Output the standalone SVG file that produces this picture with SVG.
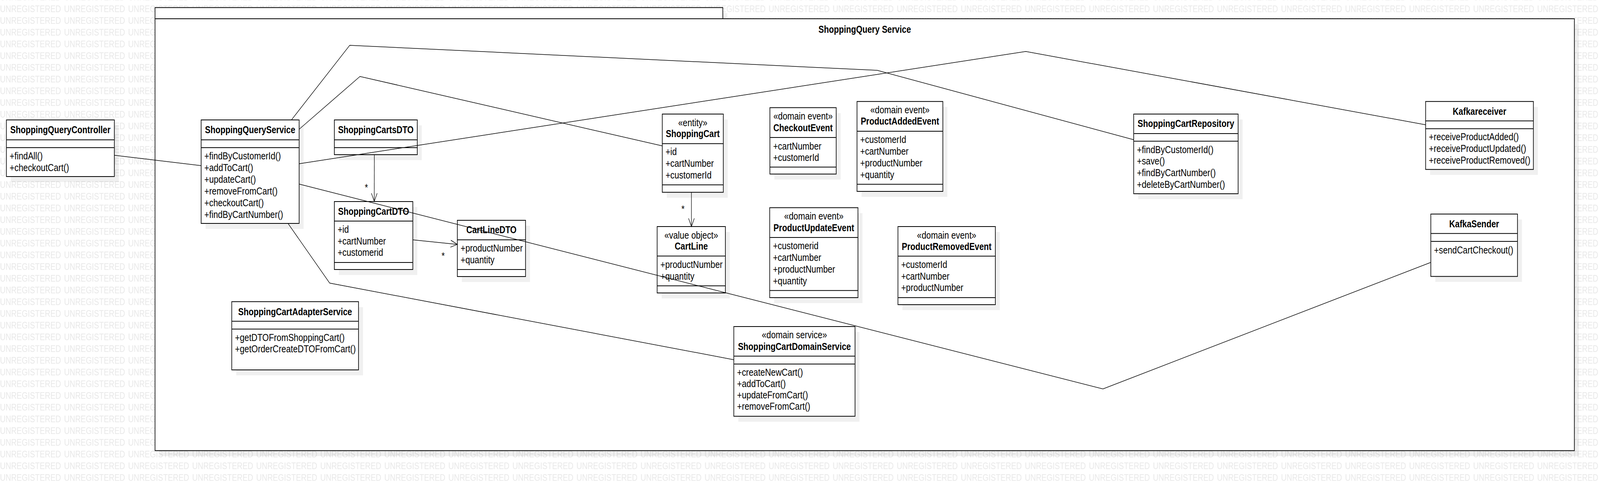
<svg xmlns="http://www.w3.org/2000/svg" width="4996" height="1234" viewBox="0 0 4996 1234" preserveAspectRatio="none" style="width:100vw;height:100vh;display:block">
<style>
.wm{font-family:"Liberation Sans",Arial,sans-serif;font-size:24px;fill:#e8e8e8}
.sh{fill:#000;fill-opacity:0.06;stroke:none}
.box{fill:#fff;stroke:#000;stroke-width:2}
.sep{stroke:#000;stroke-width:2}
.nm{font-family:"Liberation Sans",Arial,sans-serif;font-size:25.5px;font-weight:bold;text-anchor:middle;fill:#000}
.st{font-family:"Liberation Sans",Arial,sans-serif;font-size:26px;text-anchor:middle;fill:#000}
.tx{font-family:"Liberation Sans",Arial,sans-serif;font-size:26px;fill:#000}
.cn{fill:none;stroke:#000;stroke-width:1.5}
.ml{font-family:"Liberation Sans",Arial,sans-serif;font-size:26px;text-anchor:middle;fill:#000}
</style>
<defs>
<pattern id="wmp" patternUnits="userSpaceOnUse" x="0" y="1" width="200" height="30">
<text class="wm" x="0" y="30">UNREGISTERED</text>
</pattern>
<marker id="arr" markerUnits="userSpaceOnUse" markerWidth="24" markerHeight="20" viewBox="0 0 24 20" refX="22" refY="10" orient="auto">
<path d="M1,1 L22,10 L1,19" fill="none" stroke="#000" stroke-width="1.5"/>
</marker>
</defs>
<rect x="0" y="0" width="4996" height="1234" fill="#fff"/>
<rect x="0" y="0" width="4996" height="1234" fill="url(#wmp)"/>

<g id="package">
<rect class="sh" x="498" y="33.4" width="1773" height="28.6"/>
<rect class="sh" x="498" y="62" width="4432" height="1105.7"/>
<rect class="box" x="484" y="19.4" width="1773" height="28.6"/>
<rect class="box" x="484" y="48" width="4432" height="1105.7"/>
<text class="nm" x="2700" y="84">ShoppingQuery Service</text>
</g>

<g id="ShoppingQueryController">
<rect class="sh" x="34" y="321" width="337" height="145"/>
<rect class="box" x="20" y="307" width="337" height="145"/>
<line class="sep" x1="20" y1="358" x2="357" y2="358"/>
<line class="sep" x1="20" y1="378" x2="357" y2="378"/>
<text class="nm" x="188.5" y="341.5">ShoppingQueryController</text>
<text class="tx" x="30" y="408">+findAll()</text>
<text class="tx" x="30" y="438">+checkoutCart()</text>
</g>

<g id="ShoppingQueryService">
<rect class="sh" x="642" y="321" width="306" height="265"/>
<rect class="box" x="628" y="307" width="306" height="265"/>
<line class="sep" x1="628" y1="358" x2="934" y2="358"/>
<line class="sep" x1="628" y1="378" x2="934" y2="378"/>
<text class="nm" x="781" y="341.5">ShoppingQueryService</text>
<text class="tx" x="638" y="408">+findByCustomerId()</text>
<text class="tx" x="638" y="438">+addToCart()</text>
<text class="tx" x="638" y="468">+updateCart()</text>
<text class="tx" x="638" y="498">+removeFromCart()</text>
<text class="tx" x="638" y="528">+checkoutCart()</text>
<text class="tx" x="638" y="558">+findByCartNumber()</text>
</g>

<g id="ShoppingCartsDTO">
<rect class="sh" x="1058" y="321" width="259" height="89"/>
<rect class="box" x="1044" y="307" width="259" height="89"/>
<line class="sep" x1="1044" y1="358" x2="1303" y2="358"/>
<line class="sep" x1="1044" y1="378" x2="1303" y2="378"/>
<text class="nm" x="1173.5" y="341.5">ShoppingCartsDTO</text>
</g>

<g id="ShoppingCartDTO">
<rect class="sh" x="1058" y="530" width="245" height="174"/>
<rect class="box" x="1044" y="516" width="245" height="174"/>
<line class="sep" x1="1044" y1="566" x2="1289" y2="566"/>
<line class="sep" x1="1044" y1="672" x2="1289" y2="672"/>
<text class="nm" x="1166.5" y="550">ShoppingCartDTO</text>
<text class="tx" x="1054" y="596">+id</text>
<text class="tx" x="1054" y="626">+cartNumber</text>
<text class="tx" x="1054" y="655">+customerid</text>
</g>

<g id="CartLineDTO">
<rect class="sh" x="1442" y="578" width="213" height="144"/>
<rect class="box" x="1428" y="564" width="213" height="144"/>
<line class="sep" x1="1428" y1="614" x2="1641" y2="614"/>
<line class="sep" x1="1428" y1="690" x2="1641" y2="690"/>
<text class="nm" x="1534.5" y="597.5">CartLineDTO</text>
<text class="tx" x="1438" y="644">+productNumber</text>
<text class="tx" x="1438" y="674">+quantity</text>
</g>

<g id="ShoppingCart">
<rect class="sh" x="2082" y="306" width="190.5" height="200.3"/>
<rect class="box" x="2068" y="292" width="190.5" height="200.3"/>
<line class="sep" x1="2068" y1="367.7" x2="2258.5" y2="367.7"/>
<line class="sep" x1="2068" y1="473.3" x2="2258.5" y2="473.3"/>
<text class="st" x="2163.25" y="323">«entity»</text>
<text class="nm" x="2163.25" y="351.5">ShoppingCart</text>
<text class="tx" x="2078" y="397">+id</text>
<text class="tx" x="2078" y="427">+cartNumber</text>
<text class="tx" x="2078" y="457">+customerId</text>
</g>

<g id="CartLine">
<rect class="sh" x="2066" y="594" width="213" height="170"/>
<rect class="box" x="2052" y="580" width="213" height="170"/>
<line class="sep" x1="2052" y1="655.6" x2="2265" y2="655.6"/>
<line class="sep" x1="2052" y1="731.7" x2="2265" y2="731.7"/>
<text class="st" x="2158.5" y="610.7">«value object»</text>
<text class="nm" x="2158.5" y="639">CartLine</text>
<text class="tx" x="2062" y="685.7">+productNumber</text>
<text class="tx" x="2062" y="715.7">+quantity</text>
</g>

<g id="CheckoutEvent">
<rect class="sh" x="2418" y="289.6" width="207" height="170"/>
<rect class="box" x="2404" y="275.6" width="207" height="170"/>
<line class="sep" x1="2404" y1="352" x2="2611" y2="352"/>
<line class="sep" x1="2404" y1="427.8" x2="2611" y2="427.8"/>
<text class="st" x="2507.5" y="306.3">«domain event»</text>
<text class="nm" x="2507.5" y="335.6">CheckoutEvent</text>
<text class="tx" x="2414" y="382.6">+cartNumber</text>
<text class="tx" x="2414" y="412">+customerId</text>
</g>

<g id="ProductAddedEvent">
<rect class="sh" x="2690" y="273.8" width="268" height="230.2"/>
<rect class="box" x="2676" y="259.8" width="268" height="230.2"/>
<line class="sep" x1="2676" y1="336" x2="2944" y2="336"/>
<line class="sep" x1="2676" y1="471.7" x2="2944" y2="471.7"/>
<text class="st" x="2810" y="290.5">«domain event»</text>
<text class="nm" x="2810" y="319.4">ProductAddedEvent</text>
<text class="tx" x="2686" y="366">+customerId</text>
<text class="tx" x="2686" y="396">+cartNumber</text>
<text class="tx" x="2686" y="426">+productNumber</text>
<text class="tx" x="2686" y="456">+quantity</text>
</g>

<g id="ProductUpdateEvent">
<rect class="sh" x="2417.4" y="545.7" width="275.6" height="230.3"/>
<rect class="box" x="2403.4" y="531.7" width="275.6" height="230.3"/>
<line class="sep" x1="2403.4" y1="608" x2="2679" y2="608"/>
<line class="sep" x1="2403.4" y1="743.7" x2="2679" y2="743.7"/>
<text class="st" x="2541.2" y="562.3">«domain event»</text>
<text class="nm" x="2541.2" y="591.7">ProductUpdateEvent</text>
<text class="tx" x="2413.4" y="638">+customerid</text>
<text class="tx" x="2413.4" y="668">+cartNumber</text>
<text class="tx" x="2413.4" y="698">+productNumber</text>
<text class="tx" x="2413.4" y="728">+quantity</text>
</g>

<g id="ProductRemovedEvent">
<rect class="sh" x="2817.8" y="594" width="304.2" height="200"/>
<rect class="box" x="2803.8" y="580" width="304.2" height="200"/>
<line class="sep" x1="2803.8" y1="655.7" x2="3108" y2="655.7"/>
<line class="sep" x1="2803.8" y1="762" x2="3108" y2="762"/>
<text class="st" x="2955.9" y="610.7">«domain event»</text>
<text class="nm" x="2955.9" y="639.7">ProductRemovedEvent</text>
<text class="tx" x="2813.8" y="685.7">+customerId</text>
<text class="tx" x="2813.8" y="715.7">+cartNumber</text>
<text class="tx" x="2813.8" y="745">+productNumber</text>
</g>

<g id="ShoppingCartRepository">
<rect class="sh" x="3554" y="306" width="326" height="204"/>
<rect class="box" x="3540" y="292" width="326" height="204"/>
<line class="sep" x1="3540" y1="342" x2="3866" y2="342"/>
<line class="sep" x1="3540" y1="361.4" x2="3866" y2="361.4"/>
<text class="nm" x="3703" y="325.3">ShoppingCartRepository</text>
<text class="tx" x="3550" y="391.7">+findByCustomerId()</text>
<text class="tx" x="3550" y="421.4">+save()</text>
<text class="tx" x="3550" y="451">+findByCartNumber()</text>
<text class="tx" x="3550" y="480.7">+deleteByCartNumber()</text>
</g>

<g id="Kafkareceiver">
<rect class="sh" x="4465.5" y="273.8" width="336.5" height="174"/>
<rect class="box" x="4451.5" y="259.8" width="336.5" height="174"/>
<line class="sep" x1="4451.5" y1="309.6" x2="4788" y2="309.6"/>
<line class="sep" x1="4451.5" y1="329.4" x2="4788" y2="329.4"/>
<text class="nm" x="4619.75" y="293.7">Kafkareceiver</text>
<text class="tx" x="4461.5" y="359">+receiveProductAdded()</text>
<text class="tx" x="4461.5" y="388.6">+receiveProductUpdated()</text>
<text class="tx" x="4461.5" y="418.6">+receiveProductRemoved()</text>
</g>

<g id="KafkaSender">
<rect class="sh" x="4481.7" y="562" width="270.6" height="159.7"/>
<rect class="box" x="4467.7" y="548" width="270.6" height="159.7"/>
<line class="sep" x1="4467.7" y1="597.7" x2="4738.3" y2="597.7"/>
<line class="sep" x1="4467.7" y1="618" x2="4738.3" y2="618"/>
<text class="nm" x="4603" y="581.7">KafkaSender</text>
<text class="tx" x="4477.7" y="649">+sendCartCheckout()</text>
</g>

<g id="ShoppingCartAdapterService">
<rect class="sh" x="737.7" y="786.3" width="395.7" height="174.7"/>
<rect class="box" x="723.7" y="772.3" width="395.7" height="174.7"/>
<line class="sep" x1="723.7" y1="822.4" x2="1119.4" y2="822.4"/>
<line class="sep" x1="723.7" y1="842.5" x2="1119.4" y2="842.5"/>
<text class="nm" x="921.55" y="806.7">ShoppingCartAdapterService</text>
<text class="tx" x="733.7" y="872.6">+getDTOFromShoppingCart()</text>
<text class="tx" x="733.7" y="902">+getOrderCreateDTOFromCart()</text>
</g>

<g id="ShoppingCartDomainService">
<rect class="sh" x="2305.3" y="850" width="378.5" height="229.7"/>
<rect class="box" x="2291.3" y="836" width="378.5" height="229.7"/>
<line class="sep" x1="2291.3" y1="911.7" x2="2669.8" y2="911.7"/>
<line class="sep" x1="2291.3" y1="932" x2="2669.8" y2="932"/>
<text class="st" x="2480.55" y="866.3">«domain service»</text>
<text class="nm" x="2480.55" y="895.7">ShoppingCartDomainService</text>
<text class="tx" x="2301.3" y="962">+createNewCart()</text>
<text class="tx" x="2301.3" y="991">+addToCart()</text>
<text class="tx" x="2301.3" y="1020">+updateFromCart()</text>
<text class="tx" x="2301.3" y="1049">+removeFromCart()</text>
</g>

<g id="connectors">
<polyline class="cn" points="357,397.6 628,424"/>
<polyline class="cn" points="910,307 1092,116 2739,180 3540,357.8"/>
<polyline class="cn" points="934,331 1124,195.7 2068,373.6"/>
<polyline class="cn" points="934,419.3 3203,131.7 4451.5,319.5"/>
<polyline class="cn" points="934,471.2 3444,995.7 4467.7,671.7"/>
<polyline class="cn" points="899.3,572 1029.4,724.7 2291.3,920.9"/>
<polyline class="cn" points="1169,396 1168.6,515.7" marker-end="url(#arr)"/>
<polyline class="cn" points="1289,614 1428,625.7" marker-end="url(#arr)"/>
<polyline class="cn" points="2159,492.3 2159,580" marker-end="url(#arr)"/>
<text class="ml" x="1144" y="489.5">*</text>
<text class="ml" x="1383.8" y="664">*</text>
<text class="ml" x="2132.7" y="544.3">*</text>
</g>
</svg>
